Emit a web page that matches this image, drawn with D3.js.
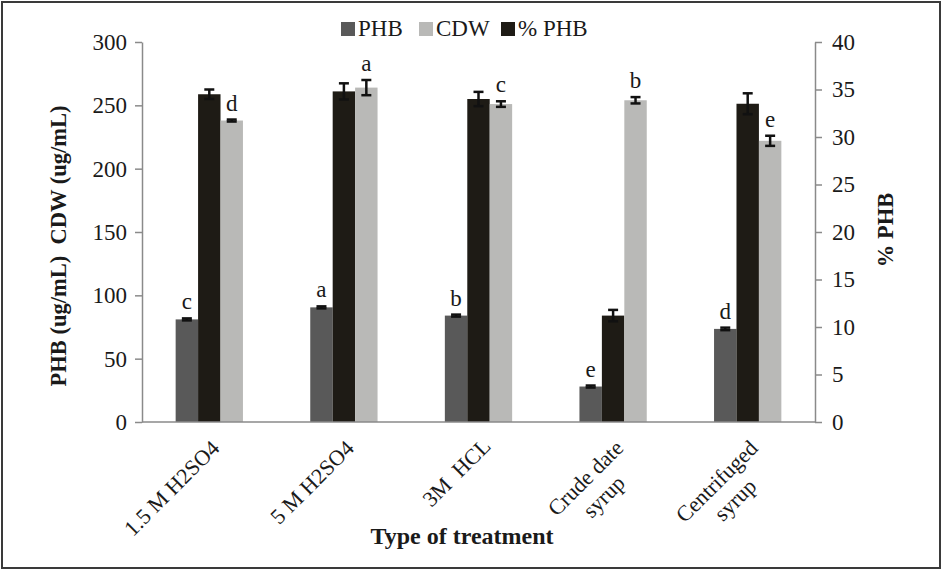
<!DOCTYPE html>
<html>
<head>
<meta charset="utf-8">
<script src="https://cdn.jsdelivr.net/npm/d3@7/dist/d3.min.js"></script>
<style>
  body { margin: 0; background: #fff; }
  svg { display: block; }
  text { font-family: "Liberation Serif", "Times New Roman", serif; fill: #1a1a1a; }
</style>
</head>
<body>
<div id="chart"></div>
<script>
// data
var categories = [["1.5 M H2SO4"], ["5 M H2SO4"], ["3M  HCL"], ["Crude date", "syrup"], ["Centrifuged", "syrup"]];
var phbValues = [81, 90.5, 84, 28, 73.5];
var phbErrors = [0.8, 0.8, 0.8, 0.8, 1];
var phbLetters = ["c", "a", "b", "e", "d"];
var pctValues = [34.5, 34.8, 34.0, 11.2, 33.5];
var pctErrors = [0.5, 0.85, 0.75, 0.6, 1.1];
var cdwValues = [238, 264, 251, 254, 222];
var cdwErrors = [0.8, 6, 2.2, 2.5, 4];
var cdwLetters = ["d", "a", "c", "b", "e"];
var leftTicks = [0, 50, 100, 150, 200, 250, 300];
var rightTicks = [0, 5, 10, 15, 20, 25, 30, 35, 40];

var W = 942, H = 570;
var margin = { left: 142, right: 127, top: 42, bottom: 148 };
var colors = { phb: "#595959", pct: "#1e1b15", cdw: "#b9b9b7" };
var axisColor = "#8a8a8a";

var svg = d3.select("#chart").append("svg")
  .attr("width", W)
  .attr("height", H);

// outer frame
svg.append("rect")
  .attr("x", 2).attr("y", 2)
  .attr("width", W - 4).attr("height", H - 4)
  .attr("fill", "#fff")
  .attr("stroke", "#3a3a3a")
  .attr("stroke-width", 2);

var x0 = d3.scaleBand()
  .domain(d3.range(categories.length))
  .range([margin.left, W - margin.right])
  .paddingInner(0.5)
  .paddingOuter(0.25);

var x1 = d3.scaleBand()
  .domain(["phb", "pct", "cdw"])
  .range([0, x0.bandwidth()]);

var yLeft = d3.scaleLinear().domain([0, 300]).range([H - margin.bottom, margin.top]);
var yRight = d3.scaleLinear().domain([0, 40]).range([H - margin.bottom, margin.top]);

// build one row per bar
var bars = [];
categories.forEach(function (c, i) {
  bars.push({ i: i, key: "phb", value: phbValues[i], err: phbErrors[i], letter: phbLetters[i], y: yLeft });
  bars.push({ i: i, key: "pct", value: pctValues[i], err: pctErrors[i], letter: null, y: yRight });
  bars.push({ i: i, key: "cdw", value: cdwValues[i], err: cdwErrors[i], letter: cdwLetters[i], y: yLeft });
});

svg.append("g")
  .selectAll("rect")
  .data(bars)
  .enter()
  .append("rect")
  .attr("x", function (d) { return x0(d.i) + x1(d.key); })
  .attr("width", x1.bandwidth())
  .attr("y", function (d) { return d.y(d.value); })
  .attr("height", function (d) { return d.y(0) - d.y(d.value); })
  .attr("fill", function (d) { return colors[d.key]; });

// error bars
var eb = svg.append("g")
  .attr("stroke", "#111")
  .attr("stroke-width", 2.5)
  .selectAll("g")
  .data(bars)
  .enter()
  .append("g")
  .attr("transform", function (d) {
    return "translate(" + (x0(d.i) + x1(d.key) + x1.bandwidth() / 2) + ",0)";
  });
eb.append("line")
  .attr("y1", function (d) { return d.y(d.value + d.err); })
  .attr("y2", function (d) { return d.y(d.value - d.err); });
eb.append("line")
  .attr("x1", -5).attr("x2", 5)
  .attr("y1", function (d) { return d.y(d.value + d.err); })
  .attr("y2", function (d) { return d.y(d.value + d.err); });
eb.append("line")
  .attr("x1", -5).attr("x2", 5)
  .attr("y1", function (d) { return d.y(d.value - d.err); })
  .attr("y2", function (d) { return d.y(d.value - d.err); });

// significance letters
svg.append("g")
  .selectAll("text")
  .data(bars.filter(function (d) { return d.letter; }))
  .enter()
  .append("text")
  .attr("x", function (d) { return x0(d.i) + x1(d.key) + x1.bandwidth() / 2; })
  .attr("y", function (d) { return d.y(d.value + d.err) - 9; })
  .attr("text-anchor", "middle")
  .style("font-size", "23px")
  .text(function (d) { return d.letter; });

// axes
function styleAxis(g) {
  g.selectAll(".domain").attr("stroke", axisColor).attr("stroke-width", 1.5);
  g.selectAll(".tick line").attr("stroke", axisColor).attr("stroke-width", 1.5);
  g.selectAll(".tick text")
    .style("font-family", "Liberation Serif, serif")
    .style("font-size", "23px")
    .attr("fill", "#1a1a1a");
}

svg.append("g")
  .attr("transform", "translate(" + margin.left + ",0)")
  .call(d3.axisLeft(yLeft).tickValues(leftTicks).tickSize(7).tickSizeOuter(0).tickPadding(8))
  .call(styleAxis);

svg.append("g")
  .attr("transform", "translate(" + (W - margin.right) + ",0)")
  .call(d3.axisRight(yRight).tickValues(rightTicks).tickSize(7).tickSizeOuter(0).tickPadding(10))
  .call(styleAxis);

svg.append("line")
  .attr("x1", margin.left).attr("x2", W - margin.right)
  .attr("y1", yLeft(0)).attr("y2", yLeft(0))
  .attr("stroke", axisColor)
  .attr("stroke-width", 1.5);

// rotated category labels, lines centred on each other
var lab = svg.append("g")
  .selectAll("g")
  .data(categories)
  .enter()
  .append("g")
  .attr("transform", function (d, i) {
    return "translate(" + (x0(i) + x0.bandwidth() / 2 + 6) + "," + (yLeft(0) + 22) + ") rotate(-45)";
  });
lab.each(function (lines) {
  var t = d3.select(this).append("text").style("font-size", "22px");
  lines.forEach(function (s, k) {
    t.append("tspan").attr("x", 0).attr("y", k * 26).attr("dy", "0.35em").text(s);
  });
  var widths = [];
  t.selectAll("tspan").each(function () { widths.push(this.getComputedTextLength()); });
  var w = d3.max(widths);
  t.selectAll("tspan")
    .attr("x", -w / 2)
    .attr("text-anchor", "middle")
    .style("white-space", "pre");
});

// axis titles
svg.append("text")
  .attr("transform", "translate(66,246) rotate(-90)")
  .attr("text-anchor", "middle")
  .style("font-size", "22.5px")
  .style("font-weight", "bold")
  .style("white-space", "pre")
  .text("PHB (ug/mL)  CDW (ug/mL)");

svg.append("text")
  .attr("transform", "translate(893,230) rotate(-90)")
  .attr("text-anchor", "middle")
  .style("font-size", "22.5px")
  .style("font-weight", "bold")
  .text("% PHB");

svg.append("text")
  .attr("x", 462).attr("y", 544)
  .attr("text-anchor", "middle")
  .style("font-size", "24px")
  .style("font-weight", "bold")
  .text("Type of treatment");

// legend
var legendItems = [
  { key: "phb", label: "PHB", x: 341 },
  { key: "cdw", label: "CDW", x: 419 },
  { key: "pct", label: "% PHB", x: 501 }
];
var lg = svg.append("g")
  .selectAll("g")
  .data(legendItems)
  .enter()
  .append("g")
  .attr("transform", function (d) { return "translate(" + d.x + ",22)"; });
lg.append("rect")
  .attr("width", 14).attr("height", 14)
  .attr("fill", function (d) { return colors[d.key]; });
lg.append("text")
  .attr("x", 17).attr("y", 14)
  .style("font-size", "23px")
  .text(function (d) { return d.label; });
</script>
</body>
</html>
